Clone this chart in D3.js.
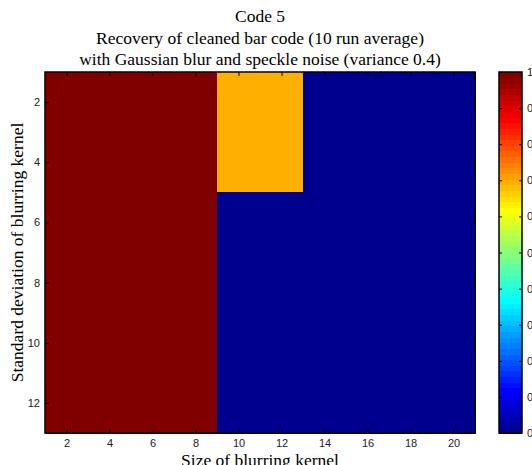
<!DOCTYPE html>
<html><head><meta charset="utf-8">
<script src="https://cdn.jsdelivr.net/npm/d3@7"></script>
<style>body{margin:0;background:#fff;overflow:hidden}svg{display:block}</style>
</head><body><svg id="c" width="532" height="465"></svg>
<script>
// Data
const titleLines = ["Code 5", "Recovery of cleaned bar code (10 run average)", "with Gaussian blur and speckle noise (variance 0.4)"];
const xLabel = "Size of blurring kernel";
const yLabel = "Standard deviation of blurring kernel";
const kernelSizes = [2, 4, 6, 8, 10, 12, 14, 16, 18, 20];
const stdDevs = [2, 4, 6, 8, 10, 12];
const row2  = [1, 1, 1, 1, 0.7, 0.7, 0, 0, 0, 0];
const row4  = [1, 1, 1, 1, 0.7, 0.7, 0, 0, 0, 0];
const row6  = [1, 1, 1, 1, 0, 0, 0, 0, 0, 0];
const row8  = [1, 1, 1, 1, 0, 0, 0, 0, 0, 0];
const row10 = [1, 1, 1, 1, 0, 0, 0, 0, 0, 0];
const row12 = [1, 1, 1, 1, 0, 0, 0, 0, 0, 0];
const recovery = [row2, row4, row6, row8, row10, row12];
const xTicks = [2, 4, 6, 8, 10, 12, 14, 16, 18, 20];
const yTicks = [2, 4, 6, 8, 10, 12];
const cbTicks = [0, 0.1, 0.2, 0.3, 0.4, 0.5, 0.6, 0.7, 0.8, 0.9, 1];
const cbTickLabels = ["0", "0.1", "0.2", "0.3", "0.4", "0.5", "0.6", "0.7", "0.8", "0.9", "1"];

// MATLAB jet(64)
function jet(m) {
  const n = Math.ceil(m / 4);
  const u = [];
  for (let i = 1; i <= n; i++) u.push(i / n);
  for (let i = 1; i < n; i++) u.push(1);
  for (let i = n; i >= 1; i--) u.push(i / n);
  const off = Math.ceil(n / 2) - (m % 4 === 1 ? 1 : 0);
  const J = Array.from({length: m}, () => [0, 0, 0]);
  u.forEach((v, k) => {
    const g = off + k + 1, r = g + n, b = g - n;
    if (r >= 1 && r <= m) J[r - 1][0] = v;
    if (g >= 1 && g <= m) J[g - 1][1] = v;
    if (b >= 1 && b <= m) J[b - 1][2] = v;
  });
  return J.map(c => d3.rgb(c[0] * 255, c[1] * 255, c[2] * 255).formatHex());
}
const cmap = jet(64);
const colorOf = v => cmap[Math.min(63, Math.max(0, Math.floor(v * 64)))];

const svg = d3.select("#c");
const L = 45, R = 475, T = 72, B = 433;
const x = d3.scaleLinear().domain([1, 21]).range([L, R]);
const y = d3.scaleLinear().domain([1, 13]).range([T, B]);

const cells = [];
recovery.forEach((row, i) => row.forEach((v, j) => cells.push({x: kernelSizes[j], y: stdDevs[i], v})));
svg.append("g").selectAll("rect").data(cells).join("rect")
  .attr("x", d => x(d.x - 1)).attr("y", d => y(d.y - 1))
  .attr("width", d => x(d.x + 1) - x(d.x - 1) + 0.5)
  .attr("height", d => y(d.y + 1) - y(d.y - 1) + 0.5)
  .attr("fill", d => colorOf(d.v)).attr("shape-rendering", "crispEdges");

const tl = 4;
const fontTick = "11px 'Liberation Sans', Arial, sans-serif";
// axes
const gxB = svg.append("g").attr("transform", `translate(0,${B})`)
  .call(d3.axisBottom(x).tickValues(xTicks).tickSize(-tl).tickPadding(6).tickFormat(d3.format("d")));
const gxT = svg.append("g").attr("transform", `translate(0,${T})`)
  .call(d3.axisTop(x).tickValues(xTicks).tickSize(-tl).tickFormat(""));
const gyL = svg.append("g").attr("transform", `translate(${L},0)`)
  .call(d3.axisLeft(y).tickValues(yTicks).tickSize(-tl).tickPadding(5).tickFormat(d3.format("d")));
const gyR = svg.append("g").attr("transform", `translate(${R},0)`)
  .call(d3.axisRight(y).tickValues(yTicks).tickSize(-tl).tickFormat(""));
[gxB, gxT, gyL, gyR].forEach(g => {
  g.select(".domain").remove();
  g.selectAll("line").attr("stroke", "#000");
  g.selectAll("text").style("font", fontTick).attr("fill", "#222");
});
svg.append("rect").attr("x", L).attr("y", T).attr("width", R - L).attr("height", B - T)
  .attr("fill", "none").attr("stroke", "#000").attr("stroke-width", 1.5);

// colorbar
const CL = 499, CR = 522;
const cy = d3.scaleLinear().domain([0, 1]).range([B, T]);
svg.append("g").selectAll("rect").data(cmap).join("rect")
  .attr("x", CL).attr("width", CR - CL)
  .attr("y", (c, i) => cy((i + 1) / 64)).attr("height", (c, i) => cy(i / 64) - cy((i + 1) / 64) + 0.5)
  .attr("fill", c => c).attr("shape-rendering", "crispEdges");
const gcR = svg.append("g").attr("transform", `translate(${CR},0)`)
  .call(d3.axisRight(cy).tickValues(cbTicks).tickSize(-3).tickPadding(5).tickFormat((d, i) => cbTickLabels[i]));
const gcL = svg.append("g").attr("transform", `translate(${CL},0)`)
  .call(d3.axisLeft(cy).tickValues(cbTicks).tickSize(-3).tickFormat(""));
[gcR, gcL].forEach(g => {
  g.select(".domain").remove();
  g.selectAll("line").attr("stroke", "#000");
  g.selectAll("text").style("font", fontTick).attr("fill", "#222");
});
svg.append("rect").attr("x", CL).attr("y", T).attr("width", CR - CL).attr("height", B - T)
  .attr("fill", "none").attr("stroke", "#000").attr("stroke-width", 1.5);

// titles
const serif = "'Liberation Serif', 'Times New Roman', serif";
svg.append("g").selectAll("text").data(titleLines).join("text")
  .attr("x", (L + R) / 2).attr("y", (d, i) => 22 + i * 21.5)
  .attr("text-anchor", "middle").style("font-family", serif).style("font-size", "17.5px").text(d => d);
svg.append("text").attr("x", (L + R) / 2).attr("y", 466)
  .attr("text-anchor", "middle").style("font-family", serif).style("font-size", "17.5px").text(xLabel);
svg.append("text").attr("transform", `translate(23,${(T + B) / 2}) rotate(-90)`)
  .attr("text-anchor", "middle").style("font-family", serif).style("font-size", "17.5px").text(yLabel);
</script></body></html>
